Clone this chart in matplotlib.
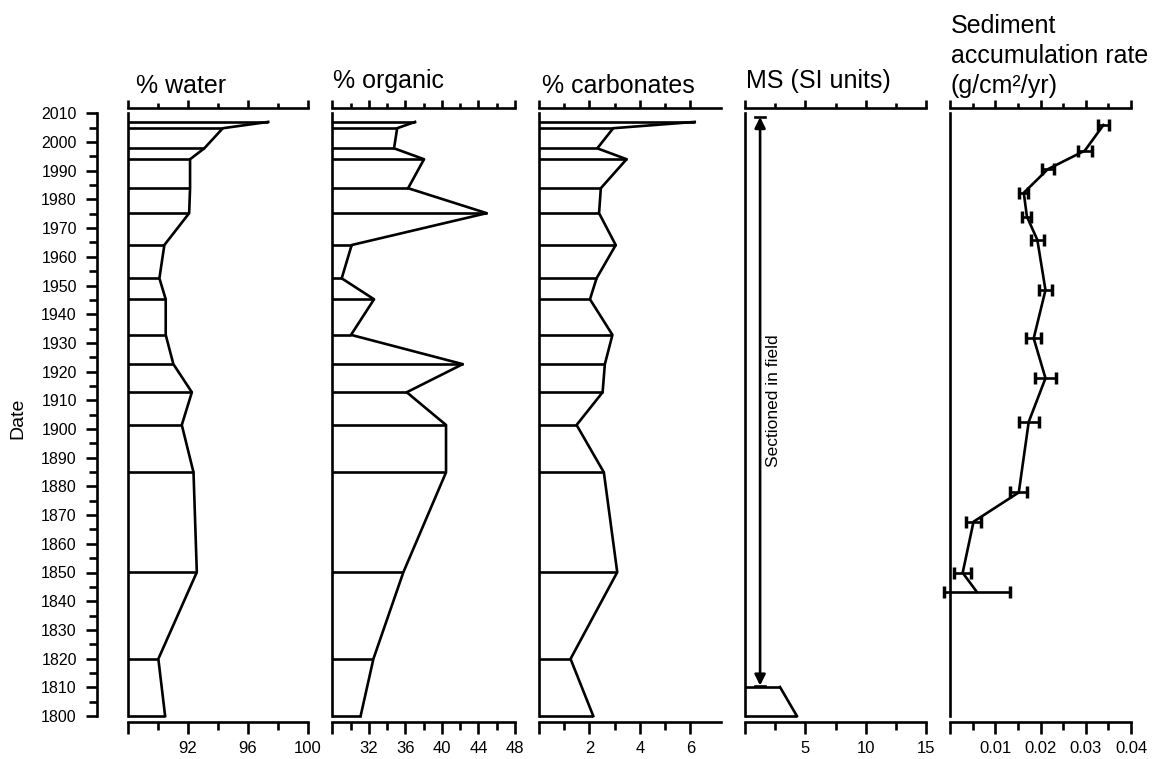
import matplotlib
matplotlib.use('Agg')
import matplotlib.pyplot as plt
from matplotlib.ticker import FixedLocator, FixedFormatter, MultipleLocator

plt.rcParams['font.family'] = ['Liberation Sans', 'DejaVu Sans']

# ---- data ----
sample_dates = [2007.0, 2004.8, 1997.8, 1994.0, 1983.9, 1975.2, 1964.1, 1952.5,
                1945.2, 1932.8, 1922.6, 1912.8, 1901.4, 1884.9, 1850.1, 1819.9, 1800.0]
water = [97.35, 94.33, 93.1, 92.15, 92.15, 92.09, 90.44, 90.11,
         90.53, 90.53, 91.04, 92.27, 91.6, 92.38, 92.6, 90.04, 90.49]
organic = [37.06, 35.1, 34.76, 38.04, 36.3, 44.9, 30.12, 29.03,
           32.57, 30.05, 42.28, 36.15, 40.45, 40.45, 35.78, 32.5, 31.1]
carbonates = [6.17, 2.94, 2.31, 3.47, 2.45, 2.38, 3.04, 2.28,
              2.02, 2.91, 2.61, 2.52, 1.49, 2.57, 3.1, 1.25, 2.15]
ms_dates = [1810.1, 1800.0]
ms_values = [2.9, 4.3]
sar_dates = [2005.9, 1997.0, 1990.5, 1982.3, 1974.0, 1965.9, 1948.4, 1931.6,
             1917.7, 1902.5, 1877.9, 1867.7, 1849.9, 1843.3]
sar = [0.0339, 0.0298, 0.0216, 0.0163, 0.0170, 0.0193, 0.0211, 0.0185,
       0.0211, 0.0174, 0.0152, 0.0052, 0.0028, 0.0059]
sar_err = [0.0013, 0.0015, 0.0013, 0.0010, 0.0010, 0.0015, 0.0015, 0.0016,
           0.0024, 0.0022, 0.0019, 0.0016, 0.0019, 0.0073]
section_top, section_bottom = 2008.7, 1810.6

titles = ['% water', '% organic', '% carbonates', 'MS (SI units)']
sed_title = ['Sediment', 'accumulation rate', '(g/cm²/yr)']

W, H = 1160, 759
fig = plt.figure(figsize=(W / 100, H / 100), dpi=100)

def fx(x):
    return x / W

def fy(y):
    return 1 - y / H

y_bot, y_top = 716.0, 113.3
ax_b = fy(y_bot)
ax_h = (y_bot - y_top) / H
LW = 1.9


def make_panel(x0, x1, xmin, xmax, major, minor, labels):
    ax = fig.add_axes([fx(x0), ax_b, fx(x1) - fx(x0), ax_h])
    ax.set_xlim(xmin, xmax)
    ax.set_ylim(1800, 2010)
    ax.patch.set_visible(False)
    for s in ['right', 'top']:
        ax.spines[s].set_visible(False)
    ax.spines['bottom'].set_position(('outward', 4.3))
    ax.spines['left'].set_linewidth(LW)
    ax.spines['bottom'].set_linewidth(LW)
    ax.xaxis.set_major_locator(FixedLocator(major))
    ax.xaxis.set_major_formatter(FixedFormatter(labels))
    ax.xaxis.set_minor_locator(FixedLocator(minor))
    ax.tick_params(axis='x', which='major', direction='out', length=8.5, width=LW,
                   labelsize=12, pad=5)
    ax.tick_params(axis='x', which='minor', direction='out', length=6, width=LW)
    ax.tick_params(axis='y', which='both', left=False, labelleft=False)
    top = ax.twiny()
    top.set_xlim(xmin, xmax)
    top.patch.set_visible(False)
    for s in ['left', 'right', 'bottom']:
        top.spines[s].set_visible(False)
    top.spines['top'].set_position(('outward', 4))
    top.spines['top'].set_linewidth(LW)
    top.xaxis.set_major_locator(FixedLocator(major))
    top.xaxis.set_minor_locator(FixedLocator(minor))
    top.tick_params(axis='x', which='major', direction='out', length=5.8, width=LW,
                    labeltop=False)
    top.tick_params(axis='x', which='minor', direction='out', length=3.3, width=LW)
    return ax


def bar_line(ax, xmin, dates, vals):
    for d, v in zip(dates, vals):
        ax.plot([xmin, v], [d, d], color='k', lw=LW, clip_on=False, solid_capstyle='butt')
    ax.plot(vals, dates, color='k', lw=LW, clip_on=False)


# water
ax1 = make_panel(127.7, 308, 88, 100, [88, 92, 96, 100], [90, 94, 98],
                 ['', '92', '96', '100'])
bar_line(ax1, 88, sample_dates, water)
# organic
ax2 = make_panel(332.3, 515, 28, 48, [28, 32, 36, 40, 44, 48], [30, 34, 38, 42, 46],
                 ['', '32', '36', '40', '44', '48'])
bar_line(ax2, 28, sample_dates, organic)
# carbonates
ax3 = make_panel(539, 720.7, 0, 7.2, [0, 2, 4, 6], [1, 3, 5],
                 ['', '2', '4', '6'])
bar_line(ax3, 0, sample_dates, carbonates)
# MS
ax4 = make_panel(745, 926, 0, 15, [0, 5, 10, 15], [2.5, 7.5, 12.5],
                 ['', '5', '10', '15'])
bar_line(ax4, 0, ms_dates, ms_values)
ax4.annotate('', xy=(1.25, section_top), xytext=(1.25, section_bottom),
             arrowprops=dict(arrowstyle='<|-|>', color='k', lw=LW,
                             mutation_scale=16, shrinkA=0, shrinkB=0))
for yy in (section_top, section_bottom):
    ax4.plot([0.83, 1.67], [yy, yy], color='k', lw=LW)
ax4.text(2.35, 1910, 'Sectioned in field', rotation=90, ha='center', va='center',
         fontsize=12.5)
# sediment accumulation
ax5 = make_panel(950, 1131, 0, 0.04, [0, 0.01, 0.02, 0.03, 0.04],
                 [0.005, 0.015, 0.025, 0.035],
                 ['', '0.01', '0.02', '0.03', '0.04'])
eb = ax5.errorbar(sar, sar_dates, xerr=sar_err, color='k', lw=LW, elinewidth=LW,
                  capsize=4, capthick=LW + 0.6)
for art in (eb.lines[0],) + tuple(eb.lines[1]) + tuple(eb.lines[2]):
    art.set_clip_on(False)

# date axis
axd = fig.add_axes([fx(97), ax_b, 0.0005, ax_h])
axd.set_ylim(1800, 2010)
axd.patch.set_visible(False)
for s in ['right', 'top', 'bottom']:
    axd.spines[s].set_visible(False)
axd.spines['left'].set_linewidth(LW)
axd.set_xticks([])
axd.yaxis.set_major_locator(MultipleLocator(10))
axd.yaxis.set_minor_locator(MultipleLocator(5))
axd.tick_params(axis='y', which='major', direction='out', length=8, width=LW,
                labelsize=11.5, pad=6.5)
axd.tick_params(axis='y', which='minor', direction='out', length=5.5, width=LW)
fig.text(fx(18), fy(418), 'Date', rotation=90, ha='center', va='center', fontsize=14)

# titles
title_pos = [(136, 93), (333, 88), (542, 93), (746, 88)]
for t, (x, y) in zip(titles, title_pos):
    fig.text(fx(x), fy(y), t, fontsize=18, ha='left', va='baseline')
for i, t in enumerate(sed_title):
    fig.text(fx(951), fy(33.3 + 30 * i), t, fontsize=18, ha='left', va='baseline')

fig.savefig('out.png', dpi=100)
